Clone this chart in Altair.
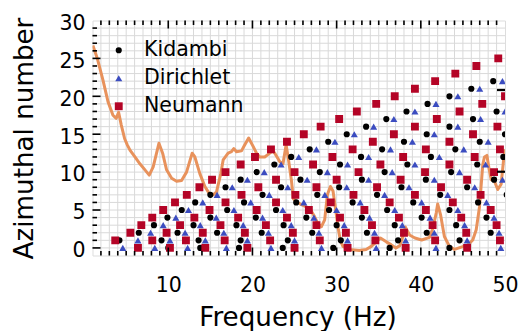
import altair as alt
import pandas as pd

# Frequencies (Hz) of each mode, listed per azimuthal number m = 0, 1, 2, ...
kidambi = [
    [10.0, 13.8, 18.4, 23.6, 29.6, 36.3, 43.4],
    [4.2, 9.2, 13.6, 18.6, 24.2, 30.5, 37.3, 44.6],
    [6.5, 11.1, 15.8, 21.1, 27.1, 33.6, 40.7, 48.3],
    [8.3, 13.0, 18.1, 23.7, 30.0, 36.9, 44.2],
    [9.9, 15.0, 20.4, 26.4, 33.0, 40.1, 47.8],
    [11.6, 17.0, 22.8, 29.1, 36.0, 43.4],
    [13.2, 19.0, 25.2, 31.9, 39.1, 46.8],
    [15.0, 21.2, 27.7, 34.8, 42.3, 50.2],
    [16.8, 23.4, 30.3, 37.7, 45.5],
    [18.6, 25.7, 33.0, 40.6, 48.7],
    [20.5, 28.0, 35.7, 43.6],
    [22.6, 30.4, 38.4, 46.7],
    [24.6, 32.9, 41.2, 49.8],
    [26.8, 35.4, 44.1],
    [29.0, 38.0, 47.0],
    [31.2, 40.7, 50.0],
    [33.5, 43.4],
    [35.9, 46.2],
    [38.3, 49.0],
    [40.8],
    [43.4],
    [46.0],
    [48.6],
]
dirichlet = [
    [4.6, 8.4, 12.3, 16.9, 22.2, 28.2, 34.7, 41.8, 49.5],
    [6.4, 10.2, 14.4, 19.4, 25.0, 31.3, 38.2, 45.5],
    [7.9, 12.0, 16.6, 21.9, 27.9, 34.5, 41.6, 49.3],
    [9.4, 13.8, 18.9, 24.6, 30.9, 37.8, 45.2],
    [10.9, 15.7, 21.2, 27.3, 33.9, 41.1, 48.7],
    [12.4, 17.8, 23.6, 30.0, 36.9, 44.4],
    [14.1, 19.8, 26.1, 32.8, 40.1, 47.8],
    [15.8, 22.0, 28.6, 35.7, 43.2],
    [17.6, 24.2, 31.2, 38.6, 46.4],
    [19.4, 26.5, 33.8, 41.6, 49.7],
    [21.4, 28.9, 36.6, 44.6],
    [23.4, 31.3, 39.3, 47.7],
    [25.5, 33.8, 42.2],
    [27.6, 36.4, 45.1],
    [29.8, 39.0, 48.0],
    [32.1, 41.6],
    [34.4, 44.4],
    [36.8, 47.1],
    [39.3, 50.0],
    [41.8],
    [44.4],
    [47.0],
    [49.7],
]
neumann = [
    [6.4, 10.2, 14.4, 19.4, 25.0, 31.3, 38.2, 45.5],
    [3.7, 8.1, 12.1, 16.7, 22.1, 28.0, 34.6, 41.7, 49.4],
    [5.5, 9.8, 14.1, 19.1, 24.8, 31.1, 38.0, 45.4],
    [6.8, 11.4, 16.2, 21.6, 27.6, 34.2, 41.4, 49.0],
    [8.1, 13.1, 18.3, 24.1, 30.4, 37.4, 44.8],
    [9.4, 14.9, 20.5, 26.7, 33.3, 40.6, 48.3],
    [10.8, 16.8, 22.8, 29.3, 36.3, 43.8],
    [12.2, 18.7, 25.1, 32.0, 39.3, 47.1],
    [13.7, 20.7, 27.6, 34.8, 42.4],
    [15.2, 22.8, 30.0, 37.6, 45.5],
    [16.8, 25.0, 32.6, 40.5, 48.7],
    [18.6, 27.2, 35.2, 43.4],
    [20.3, 29.5, 37.9, 46.4],
    [22.2, 31.9, 40.6, 49.4],
    [24.1, 34.3, 43.4],
    [26.1, 36.8, 46.2],
    [28.1, 39.3, 49.1],
    [30.3, 41.9],
    [32.4, 44.6],
    [34.7, 47.3],
    [36.9, 50.0],
    [39.3],
    [41.7],
    [44.1],
    [46.6],
    [49.2],
]

# Measured spectrum curve (orange)
spec_freq = [1.05, 1.57, 2.25, 2.84, 3.43, 3.82, 4.1, 4.42, 4.82, 5.13,
             5.45, 6.04, 6.63, 7.23, 7.74, 8.21, 8.89, 9.33, 9.8, 10.4,
             10.99, 11.58, 12.17, 12.84, 13.16, 13.75, 14.35, 14.86, 15.33, 15.73,
             16.24, 16.52, 17.11, 17.51, 17.78, 18.1, 18.7, 19.09, 19.55, 20.08,
             20.48, 20.87, 21.46, 22.06, 22.38, 22.65, 23.24, 23.63, 24.0, 24.3,
             24.63, 24.85, 25.22, 25.82, 26.41, 26.92, 27.39, 27.79, 28.19, 28.58,
             28.9, 29.26, 29.57, 29.95, 30.2, 30.44, 30.75, 31.5, 32.7, 33.5,
             34.12, 34.71, 35.2, 35.9, 36.5, 37.05, 37.5, 37.87, 38.17, 38.66,
             39.3, 40.1, 41.04, 41.43, 41.83, 42.0, 42.34, 42.8, 43.4, 44.0,
             44.8, 45.6, 46.17, 46.58, 46.97, 47.36, 47.56, 47.85, 48.1, 48.36,
             48.75, 49.14, 49.54, 49.85, 50.0]
spec_val = [26.7, 25.0, 22.1, 19.3, 17.5, 17.1, 17.9, 16.2, 14.4, 13.6,
            12.9, 12.0, 11.1, 10.3, 9.6, 10.7, 13.8, 12.5, 10.3, 9.2,
            8.8, 8.9, 10.0, 12.5, 12.0, 9.8, 8.1, 7.2, 7.0, 7.4,
            9.8, 11.6, 12.5, 12.7, 13.1, 12.7, 12.8, 13.6, 14.5, 13.4,
            12.5, 12.0, 12.0, 12.5, 12.8, 12.5, 11.4, 11.1, 13.6, 11.5,
            8.9, 6.5, 6.1, 5.7, 5.4, 5.0, 4.1, 3.2, 2.8, 3.7,
            7.0, 8.1, 7.5, 4.5, 2.5, 1.0, 0.2, -0.2, -0.35, -0.2,
            0.2, 0.8, 1.3, 0.8, 0.4, 0.0, 0.3, 1.5, 2.75, 1.7,
            1.3, 1.05, 1.4, 2.6, 4.6, 5.8, 4.4, 1.5, 0.2, -0.2,
            0.1, 0.4, 1.05, 2.4, 5.4, 11.0, 12.0, 12.2, 10.5, 9.0,
            8.8, 7.7, 8.4, 11.8, 13.0]

series_names = ["Kidambi", "Dirichlet", "Neumann"]
series_colors = ["#000000", "#3b4cc0", "#b40426"]
series_shapes = ["circle", "triangle-up", "square"]
series_sizes = [38, 62, 40]

x_labels = [10, 20, 30, 40, 50]
y_labels = [0, 5, 10, 15, 20, 25, 30]
right_ticks = [10.05, 20.83]

W, H = 412.5, 235
FONT = "DejaVu Sans"
XT = "Frequency (Hz)"
YT = "Azimuthal number"

rows = []
for name, table in zip(series_names, [kidambi, dirichlet, neumann]):
    for m, freqs in enumerate(table):
        for f in freqs:
            rows.append({"f": f, "m": m, "series": name})
pts = pd.DataFrame(rows)

xs = alt.Scale(domain=[1, 50], nice=False, zero=False)
ys = alt.Scale(domain=[-1, 30], nice=False, zero=False)

xaxis = alt.Axis(values=x_labels, ticks=False, tickSize=0, domain=False, grid=False,
                 labelFontSize=20.5, labelFont=FONT, labelColor="black",
                 labelBaseline="alphabetic", labelPadding=36, labelFlush=False,
                 labelOverlap=False, title=XT, titleFontSize=26.2, titleFont=FONT,
                 titleFontWeight="normal", titleColor="black", titleBaseline="alphabetic",
                 titleY=69.5, titleX=205, titleAlign="center")
yaxis = alt.Axis(values=y_labels, ticks=False, tickSize=0, domain=False, grid=False,
                 labelFontSize=20.5, labelFont=FONT, labelColor="black",
                 labelBaseline="alphabetic", labelOffset=8.8, labelPadding=7.5,
                 labelAlign="right", labelFlush=False, labelOverlap=False,
                 title=YT, titleFontSize=26.2, titleFont=FONT, titleFontWeight="normal",
                 titleColor="black", titleAngle=270, titleBaseline="alphabetic",
                 titleX=-60.5, titleY=117.5, titleAlign="center")

def X(field):
    return alt.X(f"{field}:Q", scale=xs, axis=xaxis, title=XT)

def Y(field):
    return alt.Y(f"{field}:Q", scale=ys, axis=yaxis, title=YT)

grid_x = pd.DataFrame({"gx": list(range(2, 50))})
grid_y = pd.DataFrame({"gy": list(range(0, 30))})
minor_x = pd.DataFrame({"tx": [v for v in range(2, 50) if v % 10 != 0]})
major_x = pd.DataFrame({"tx": [10, 20, 30, 40]})
minor_y = pd.DataFrame({"ty": [v for v in range(1, 30) if v % 5 != 0]})
major_y = pd.DataFrame({"ty": [0, 5, 10, 15, 20, 25]})
rtick = pd.DataFrame({"ty": right_ticks})

GRID = "#d9d9d9"
gv = alt.Chart(grid_x).mark_rule(color=GRID, strokeWidth=1).encode(
    x=X("gx"), y=alt.value(0), y2=alt.value(H))
gh = alt.Chart(grid_y).mark_rule(color=GRID, strokeWidth=1).encode(
    y=Y("gy"), x=alt.value(0), x2=alt.value(W))

spec = alt.Chart(pd.DataFrame({"f": spec_freq, "v": spec_val})).mark_line(
    color="#e8925c", strokeWidth=3, clip=True, strokeJoin="round").encode(
    x=X("f"), y=Y("v"), order="f:Q")

legend = alt.Legend(title=None, orient="none", legendX=16, legendY=19.5,
                    labelFontSize=20.5, labelFont=FONT, labelColor="black",
                    symbolSize=22, rowPadding=7, labelOffset=15, symbolStrokeWidth=0,
                    padding=0)
points = alt.Chart(pts).mark_point(filled=True, opacity=1, clip=True).encode(
    x=X("f"), y=Y("m"),
    color=alt.Color("series:N", scale=alt.Scale(domain=series_names, range=series_colors), legend=legend),
    shape=alt.Shape("series:N", scale=alt.Scale(domain=series_names, range=series_shapes), legend=legend),
    size=alt.Size("series:N", scale=alt.Scale(domain=series_names, range=series_sizes), legend=None),
    order=alt.Order("ord:Q"),
).transform_calculate(ord="indexof(['Kidambi','Dirichlet','Neumann'], datum.series)")

def tick_layer(df, field, orient, length, width=1.6):
    base = alt.Chart(df).mark_rule(color="black", strokeWidth=width)
    if orient == "bottom":
        return base.encode(x=X(field), y=alt.value(H), y2=alt.value(H - length))
    if orient == "top":
        return base.encode(x=X(field), y=alt.value(0), y2=alt.value(length))
    if orient == "left":
        return base.encode(y=Y(field), x=alt.value(0), x2=alt.value(length))
    return base.encode(y=Y(field), x=alt.value(W), x2=alt.value(W - length))

ticks = [
    tick_layer(minor_x, "tx", "bottom", 4.5), tick_layer(major_x, "tx", "bottom", 8),
    tick_layer(minor_x, "tx", "top", 4.5), tick_layer(major_x, "tx", "top", 8),
    tick_layer(minor_y, "ty", "left", 4.5), tick_layer(major_y, "ty", "left", 8),
    tick_layer(rtick, "ty", "right", 8, 2.2),
]

chart = alt.layer(gv, gh, spec, points, *ticks).properties(
    width=W, height=H,
    padding={"left": 92.5, "top": 20.5, "right": 17, "bottom": 75.5},
    autosize=alt.AutoSizeParams(type="none"),
).configure_view(stroke="black", strokeWidth=2.6).configure(background="white")

chart.save("out.html", embed_options={"renderer": "svg", "actions": False})
